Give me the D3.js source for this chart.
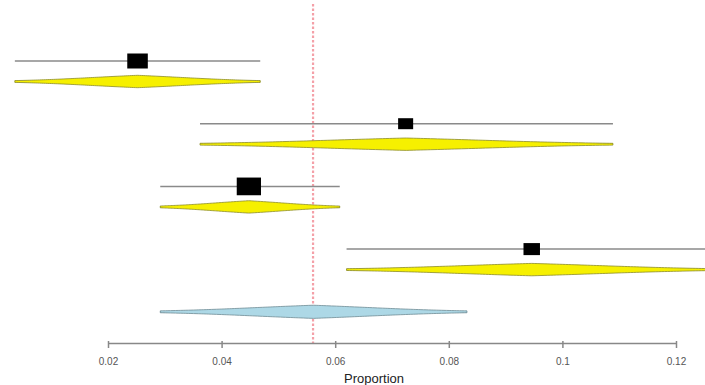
<!DOCTYPE html>
<html>
<head>
<meta charset="utf-8">
<script src="https://cdnjs.cloudflare.com/ajax/libs/d3/7.8.5/d3.min.js"></script>
<style>
  body { margin: 0; background: #fff; }
  svg { display: block; font-family: "Liberation Sans", Arial, sans-serif; }
</style>
</head>
<body>
<div id="chart"></div>
<script>
// study estimates (proportions) with 95% CI
var estimates = [0.0252, 0.0724, 0.0448, 0.0946];
var lowers    = [0.0036, 0.0362, 0.0292, 0.0620];
var uppers    = [0.0468, 0.1089, 0.0608, 0.1272];
var weights   = [28, 15, 39, 18];

// pooled estimate
var pooled = {est: 0.0561, lo: 0.0292, hi: 0.0832};

var tickValues = [0.02, 0.04, 0.06, 0.08, 0.1, 0.12];
var tickLabels = ["0.02", "0.04", "0.06", "0.08", "0.1", "0.12"];

var width = 705, height = 385;

var svg = d3.select("#chart").append("svg")
  .attr("width", width)
  .attr("height", height);

var x = d3.scaleLinear().domain([0.02, 0.12]).range([108, 676]);
var y = d3.scaleLinear().domain([0, 4]).range([61, 311.8]);
var size = d3.scaleSqrt().domain([0, 39]).range([0, 17.7]);

var studies = estimates.map(function(e, i) {
  return {est: e, lo: lowers[i], hi: uppers[i], w: weights[i], i: i};
});

// "drop" shape over the CI: likelihood-like, a bit pointed at the estimate
function dropPoints(d, H) {
  var se = (d.hi - d.lo) / 3.92;
  return d3.range(0, 121).map(function(k) {
    var v = d.lo + (d.hi - d.lo) * k / 120;
    var z = Math.abs(v - d.est) / se;
    var h = H * (0.55 * Math.exp(-0.5 * z * z) + 0.45 * Math.exp(-z));
    return {v: v, h: h};
  });
}

var area = function(cy) {
  return d3.area()
    .x(function(p) { return x(p.v); })
    .y0(function(p) { return cy + p.h; })
    .y1(function(p) { return cy - p.h; });
};

// reference line at pooled estimate
svg.append("line")
  .attr("x1", x(pooled.est)).attr("x2", x(pooled.est))
  .attr("y1", 4).attr("y2", 343)
  .attr("stroke", "#f4a0a8")
  .attr("stroke-width", 2.2)
  .attr("stroke-dasharray", "2.5,2");

var rows = svg.selectAll("g.study").data(studies).enter()
  .append("g").attr("class", "study");

// CI lines
rows.append("line")
  .attr("x1", function(d) { return x(d.lo); })
  .attr("x2", function(d) { return x(d.hi); })
  .attr("y1", function(d) { return y(d.i); })
  .attr("y2", function(d) { return y(d.i); })
  .attr("stroke", "#8a8a8a")
  .attr("stroke-width", 1.5);

// squares (slightly stretched horizontally like the original)
rows.append("rect")
  .attr("width", function(d) { return size(d.w) * 1.37; })
  .attr("height", function(d) { return size(d.w); })
  .attr("x", function(d) { return x(d.est) - size(d.w) * 1.37 / 2; })
  .attr("y", function(d) { return y(d.i) - size(d.w) / 2; })
  .attr("fill", "#000");

// thin line under the drops
rows.append("line")
  .attr("x1", function(d) { return x(d.lo); })
  .attr("x2", function(d) { return x(d.hi); })
  .attr("y1", function(d) { return y(d.i) + 20.5; })
  .attr("y2", function(d) { return y(d.i) + 20.5; })
  .attr("stroke", "#666")
  .attr("stroke-width", 1.5);

rows.append("path")
  .attr("d", function(d) { return area(y(d.i) + 20.5)(dropPoints(d, 6.2)); })
  .attr("fill", "#f6f000")
  .attr("stroke", "#8c8c2a")
  .attr("stroke-width", 0.8);

// pooled drop
var py = y(4);
svg.append("line")
  .attr("x1", x(pooled.lo)).attr("x2", x(pooled.hi))
  .attr("y1", py).attr("y2", py)
  .attr("stroke", "#666")
  .attr("stroke-width", 1.5);

svg.append("path")
  .attr("d", area(py)(dropPoints(pooled, 6.6)))
  .attr("fill", "#add8e6")
  .attr("stroke", "#6f8c94")
  .attr("stroke-width", 0.8);

// x axis
var axis = d3.axisBottom(x)
  .tickValues(tickValues)
  .tickFormat(function(d, i) { return tickLabels[i]; })
  .tickSize(7)
  .tickSizeOuter(0);

var gx = svg.append("g")
  .attr("transform", "translate(0,343)")
  .call(axis);

gx.select(".domain").attr("stroke", "#888").attr("stroke-width", 1.5);
gx.selectAll(".tick line").attr("stroke", "#888").attr("stroke-width", 1.5)
  .attr("y2", 7).attr("transform", "translate(0,-2)");
gx.selectAll(".tick text")
  .attr("fill", "#555")
  .attr("font-size", 10)
  .attr("y", 15);

svg.append("text")
  .attr("x", 374)
  .attr("y", 383)
  .attr("text-anchor", "middle")
  .attr("font-size", 13)
  .attr("fill", "#222")
  .text("Proportion");
</script>
</body>
</html>
